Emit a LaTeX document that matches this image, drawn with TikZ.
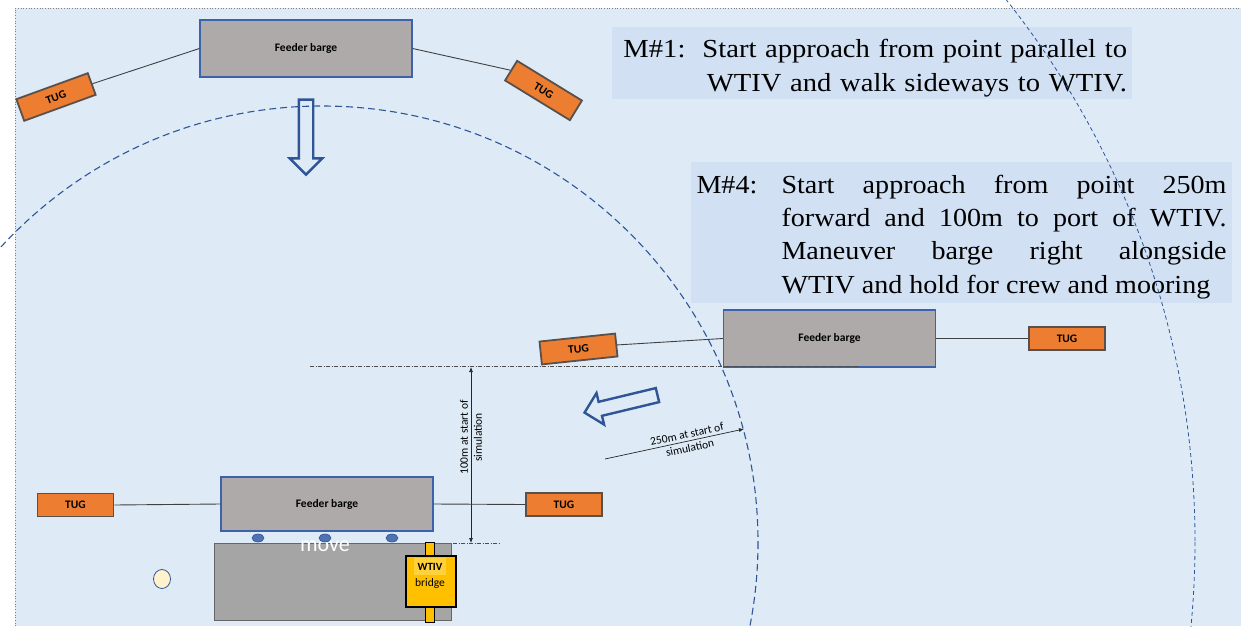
\documentclass[tikz,border=0pt]{standalone}
\usepackage{fontspec}
\setmainfont{Carlito}
\newfontfamily\notefont[FakeStretch=1.1]{Liberation Serif}
\newfontfamily\notefontnarrow[FakeStretch=1.08]{Liberation Serif}
\usepackage{tikz}
\usetikzlibrary{shapes.arrows,shapes.geometric,arrows.meta,positioning,calc}
\definecolor{seablue}{RGB}{222,235,247}
\definecolor{noteblue}{RGB}{209,224,243}
\definecolor{bargegray}{RGB}{174,170,170}
\definecolor{bargeedge}{RGB}{59,98,170}
\definecolor{tugorange}{RGB}{237,125,49}
\definecolor{tugedge}{RGB}{89,80,75}
\definecolor{ringblue}{RGB}{47,85,151}
\definecolor{hullgray}{RGB}{165,165,165}
\definecolor{bridgeyellow}{RGB}{255,192,0}
\definecolor{wtivhl}{RGB}{255,210,60}
\definecolor{buoyfill}{RGB}{255,242,204}
\tikzset{
  barge/.style={draw=bargeedge, fill=bargegray, line width=1.2,
    minimum width=212, minimum height=57, inner sep=0pt,
    font=\fontsize{11.5}{14}\selectfont\bfseries},
  tugbox/.style={draw=tugedge, fill=tugorange, line width=1.8,
    minimum width=76, minimum height=23, inner sep=0pt,
    font=\fontsize{11.5}{14}\selectfont\bfseries},
  towline/.style={draw=black!75, line width=0.9},
  fender/.style={ellipse, draw=ringblue, fill=bargeedge!90, line width=0.6,
    minimum width=12, minimum height=8, inner sep=0pt},
  hollowarrow/.style={single arrow, draw=ringblue, line width=2.4,
    inner sep=6pt, single arrow head extend=9pt, minimum height=75},
  %% Manoeuvre notes
  notebox/.style={fill=noteblue, inner xsep=5,
    font=\notefont\fontsize{26}{34}\selectfont},
  %% Rings round the WTIV
  ringin/.style={draw=ringblue, line width=1.1, dash pattern=on 7pt off 4pt},
  ringout/.style={draw=ringblue, line width=0.8, dash pattern=on 4pt off 3pt},
  frameline/.style={draw=gray, line width=0.7, dotted},
  %% Offsets
  guide/.style={draw=black!70, line width=0.6, dash pattern=on 4pt off 1.5pt on 1pt off 1.5pt},
  dimline/.style={draw=black!85, line width=0.7},
  dimtext/.style={font=\fontsize{11.5}{14}\selectfont, align=center, inner sep=1pt},
  hull/.style={draw=gray!80!black, fill=hullgray, line width=0.8,
    minimum width=237, minimum height=77},
  movetext/.style={text=white, font=\fontsize{22}{24}\selectfont, inner sep=0pt},
  bridgebar/.style={draw=black, fill=bridgeyellow, line width=1,
    minimum width=9, minimum height=80, inner sep=0pt},
  bridgebox/.style={draw=black, fill=bridgeyellow, line width=1.3,
    minimum width=50, minimum height=51, inner sep=0pt},
  buoy/.style={ellipse, draw=ringblue, fill=buoyfill, line width=0.8,
    minimum width=17, minimum height=19, inner sep=0pt},
}
\begin{document}
\begin{tikzpicture}[x=1pt, y=-1pt]
\useasboundingbox (0,0) rectangle (1241,626);

%% Sea area and frame
\fill[seablue] (15,8) rectangle (1241,626);
\draw[frameline] (15,626) -- (15,8) -- (1241,8);

%% Notes
\node[notebox, text width=510, align=right, inner ysep=2.5] (noteOne) at (872,63.1)
  {\rule{0pt}{27.5pt}\makebox[79pt][l]{M\#1:}Start approach from point parallel to\\WTIV and walk sideways to WTIV.};
\node[notebox, text width=530, align=justify, inner xsep=5.5, inner ysep=4,
  font=\notefontnarrow\fontsize{26}{33.4}\selectfont] (noteFour) at (961.5,232.6)
  {\hyphenpenalty=10000\hangindent=85pt\hangafter=1\rule{0pt}{27pt}\makebox[85pt][l]{M\#4:}Start approach from point 250m\linebreak
   forward and 100m to port of WTIV.\linebreak Maneuver barge right alongside\linebreak
   WTIV and hold for crew and mooring\par};

%% Rings
\begin{scope}
  \clip (0,0) rectangle (1241,626);
  \draw[ringin]  (322,542) circle[radius=436];
  \draw[ringout] (322,542) circle[radius=873];
\end{scope}

%% M#1 start position
\node[barge] (bargeTop) at (306,48.5) {Feeder barge};
\node[tugbox, rotate=20]    (tugTopL) at (56,97)      {TUG};
\node[tugbox, rotate=-31.5] (tugTopR) at (543.5,90.5) {TUG};
\draw[towline] (tugTopL.east) -- (bargeTop.west);
\draw[towline] (bargeTop.east) -- (tugTopR.west);
\node[hollowarrow, rotate=-90] (goDown) at (306,133.5) {};

%% M#4 start position
\node[barge] (bargeMid) at (829.5,338.5) {Feeder barge};
\node[tugbox, rotate=6] (tugMidL) at (578.5,349)   {TUG};
\node[tugbox]           (tugMidR) at (1067,338.5)  {TUG};
\draw[towline] (tugMidL.east) -- (bargeMid.west);
\draw[towline] (bargeMid.east) -- (tugMidR.west);
\node[hollowarrow, rotate=-166.5] (goPort) at (624.5,403) {};

%% Offsets at start of simulation
\coordinate (guideA) at (310,366);
\coordinate (guideB) at (858,366);
\draw[guide] (guideA) -- (guideB);
\coordinate (guideC) at (453,543);
\coordinate (guideD) at (500,543);
\draw[guide] (guideC) -- (guideD);
\coordinate (offTop) at (471,367);
\coordinate (offBot) at (471,543);
\draw[dimline, {Latex[length=5pt,width=4pt]}-{Latex[length=5pt,width=4pt]}] (offTop) --
  node[dimtext, rotate=90, pos=0.4] (offText) {100m at start of\\simulation} (offBot);
\coordinate (runFrom) at (605,459);
\coordinate (runTo) at (744,429);
\draw[dimline, -{Latex[length=5pt,width=4pt]}] (runFrom) --
  node[dimtext, sloped, pos=0.6] (runText) {250m at start of\\simulation} (runTo);

%% Alongside the WTIV
\node[hull] (wtiv) at (332.5,581.5) {};
\node[movetext] (moveTag) at (325,546) {move};
\node[barge, minimum height=54] (bargeLow) at (327,504) {Feeder barge};
\node[tugbox] (tugLowL) at (75.5,505) {TUG};
\node[tugbox] (tugLowR) at (564,504.5) {TUG};
\draw[towline] (tugLowL.east) -- (bargeLow.west);
\draw[towline] (bargeLow.east) -- (tugLowR.west);
\foreach \fx [count=\i] in {258,325,392}
  \node[fender] (fender\i) at (\fx,538) {};
\node[bridgebar] (bridgeBar) at (429.5,582) {};
\node[bridgebox] (bridgeBox) at (431,581.5) {};
\node[fill=wtivhl, minimum width=32, minimum height=17, inner sep=0pt,
  font=\fontsize{11}{13}\selectfont\bfseries] (wtivTag) at (430,566.5) {WTIV};
\node[inner sep=0pt, font=\fontsize{11.5}{13}\selectfont] (bridgeTag) at (430,583) {bridge};
\node[buoy] (buoy) at (162,579) {};

\end{tikzpicture}
\end{document}
